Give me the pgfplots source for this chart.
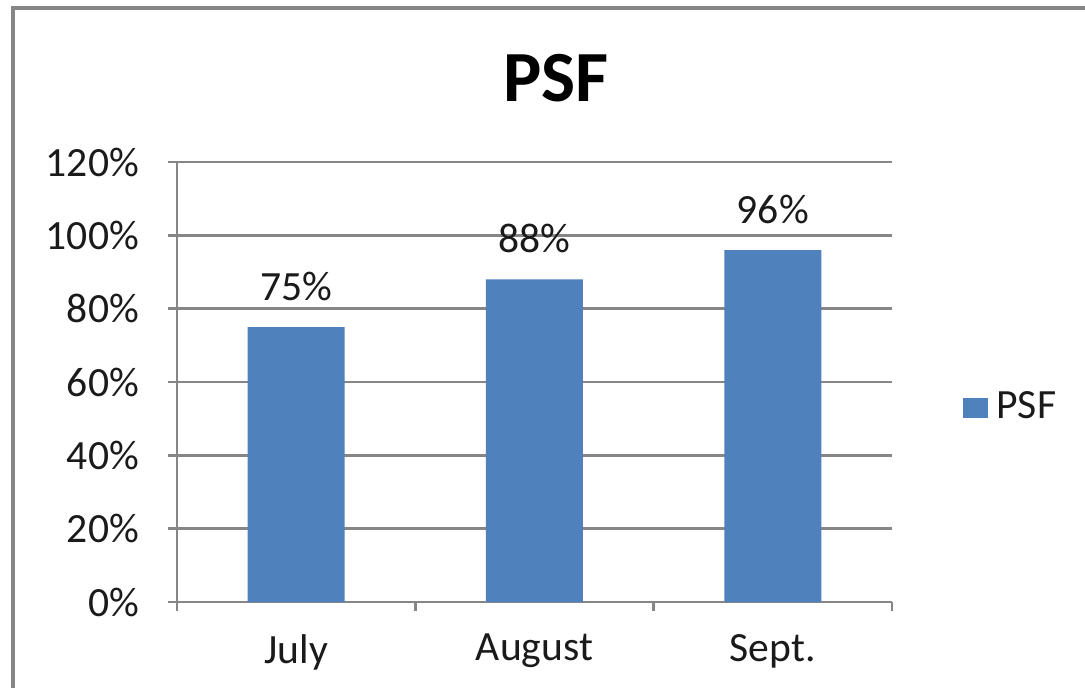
\documentclass[border=0pt]{standalone}
\usepackage{pgfplots}
\pgfplotsset{compat=1.18}
\usepackage{fontspec}
\setmainfont{Carlito}
\definecolor{barblue}{HTML}{4F81BD}
\definecolor{gridgray}{HTML}{868686}
\definecolor{txt}{HTML}{1A1A1A}
\begin{document}
\begin{tikzpicture}[x=0.25pt,y=0.25pt]
\useasboundingbox (0,0) rectangle (1085,688);
\draw[gridgray, line width=1pt] (13,0) -- (13,680) -- (1085,680);
\node[font=\bfseries\fontsize{18}{20}\selectfont, text=black] at (556,610) {PSF};
\begin{axis}[
    at={(44.25pt,21.5pt)}, anchor=south west,
    scale only axis, width=178.75pt, height=110pt,
    ymin=0, ymax=120, ytick={0,20,...,120},
    xmin=-0.5, xmax=2.5, xtick={0,1,2},
    xticklabels={July,August,Sept.},
    minor xtick={-0.5,0.5,1.5,2.5},
    axis x line*=bottom, axis y line*=left,
    axis line style={gridgray, line width=0.6pt, -},
    ymajorgrids, grid style={gridgray, line width=0.6pt},
    tick align=outside, major tick length=2.25pt, minor tick length=2.25pt,
    major x tick style={draw=none},
    minor x tick style={gridgray, line width=0.6pt},
    y tick style={gridgray, line width=0.6pt},
    /pgf/number format/assume math mode=true,
    yticklabel={\pgfmathprintnumber{\tick}\%},
    ticklabel style={font=\fontsize{10.4}{12}\selectfont, text=txt},
    xticklabel style={yshift=-2.25pt},
    yticklabel style={xshift=-3.75pt},
    ybar, bar width=24.25pt,
    nodes near coords={\pgfmathprintnumber{\pgfplotspointmeta}\%},
    every node near coord/.append style={font=\fontsize{10.4}{12}\selectfont, text=txt, yshift=3pt},
    legend style={at={(1.082,0.441)}, anchor=west, draw=none, fill=none,
        font=\fontsize{10.4}{12}\selectfont, text=txt},
    legend image code/.code={\fill[barblue] (-1pt,-2.5pt) rectangle (5.25pt,2.5pt);},
]
\addplot[fill=barblue, draw=none] coordinates {(0,75) (1,88) (2,96)};
\addlegendentry{PSF}
\end{axis}
\end{tikzpicture}
\end{document}
